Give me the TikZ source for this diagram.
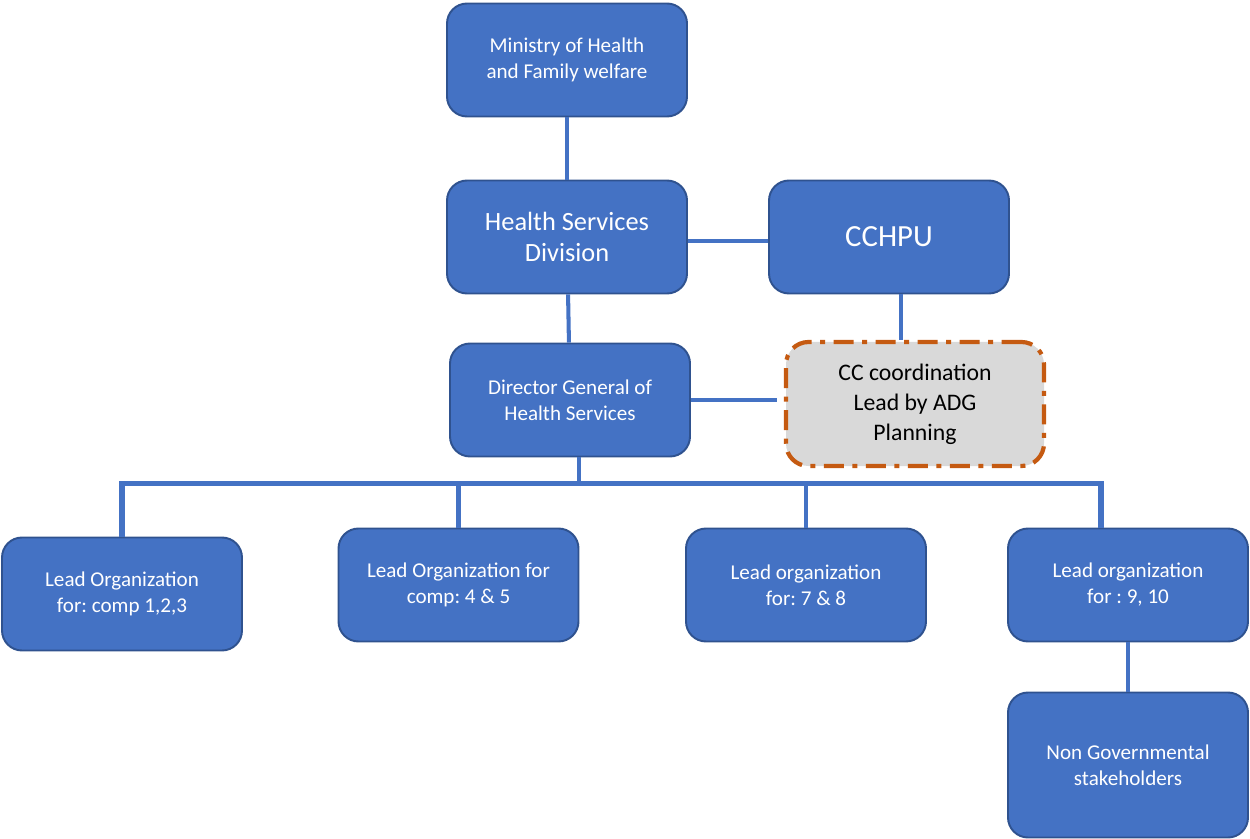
\documentclass[tikz,border=0pt]{standalone}
\usepackage{fontspec}
\setmainfont{Carlito}
\frenchspacing
\definecolor{boxblue}{HTML}{4472C4}
\definecolor{edgeblue}{HTML}{2F528F}
\definecolor{ccgray}{HTML}{D9D9D9}
\definecolor{ccorange}{HTML}{C55A11}
\begin{document}
\begin{tikzpicture}[
    unit/.style={draw=edgeblue,line width=1.1pt,fill=boxblue,rounded corners=0.4cm,
      minimum width=4.8cm,minimum height=2.26cm,text=white,align=center,
      font=\fontsize{12}{14.8}\selectfont},
    link/.style={draw=boxblue,line width=2.3pt},
    ccbox/.style={draw=ccorange,line width=2.4pt,fill=ccgray,rounded corners=0.45cm,
      dash pattern=on 0.4cm off 0.17cm on 0.1cm off 0.17cm,
      minimum width=5.16cm,minimum height=2.48cm,align=center,
      font=\fontsize{13.5}{17}\selectfont}]
  \useasboundingbox (0,0) rectangle (25,-16.78);

  \node[unit] (moh) at (11.34,-1.20) {Ministry of Health\\and Family welfare};
  \node[unit,below of=moh,node distance=3.54cm,font=\fontsize{15}{18}\selectfont] (hsd) {Health Services\\Division};
  \node[unit,right of=hsd,node distance=6.44cm,font=\fontsize{17.5}{20}\selectfont] (cchpu) {CCHPU};
  \node[unit,below of=hsd,node distance=3.26cm,xshift=0.06cm] (dghs) {Director General of\\Health Services};
  \node[ccbox] (cc) at (18.30,-8.08) {CC coordination\\Lead by ADG\\Planning};

  \node[unit] (lead1) at (2.44,-11.88) {Lead Organization\\for: comp 1,2,3};
  \node[unit] (lead2) at (9.17,-11.70) {Lead Organization for\\comp: 4 \& 5};
  \node[unit,right of=lead2,node distance=6.95cm] (lead3) {Lead organization\\for: 7 \& 8};
  \node[unit,right of=lead3,node distance=6.44cm] (lead4) {Lead organization\\for : 9, 10};
  \node[unit,minimum height=2.9cm,below of=lead4,node distance=3.6cm] (ngo) {Non Governmental\\stakeholders};

  \draw[link] (moh) -- (hsd);
  \draw[link] (hsd) -- (dghs);
  \draw[link] ([yshift=-0.08cm]hsd.east) -- ([yshift=-0.08cm]hsd.east -| cchpu.west);
  \draw[link] ([xshift=0.24cm]cchpu.south) -- ([xshift=0.24cm]cchpu.south |- cc.north);
  \draw[link] (dghs.east) -- ([xshift=-0.14cm]dghs.east -| cc.west);
  \draw[link] ([xshift=0.18cm]dghs.south) -- ++(0,-0.52) coordinate (bus);
  \draw[link,line width=3pt] (lead1.north) |- (bus);
  \draw[link,line width=3pt] ([xshift=-0.54cm]lead4.north) |- (bus);
  \draw[link] (lead2.north) -- (lead2.north |- bus);
  \draw[link] (lead3.north) -- (lead3.north |- bus);
  \draw[link] (lead4) -- (ngo);
\end{tikzpicture}
\end{document}
